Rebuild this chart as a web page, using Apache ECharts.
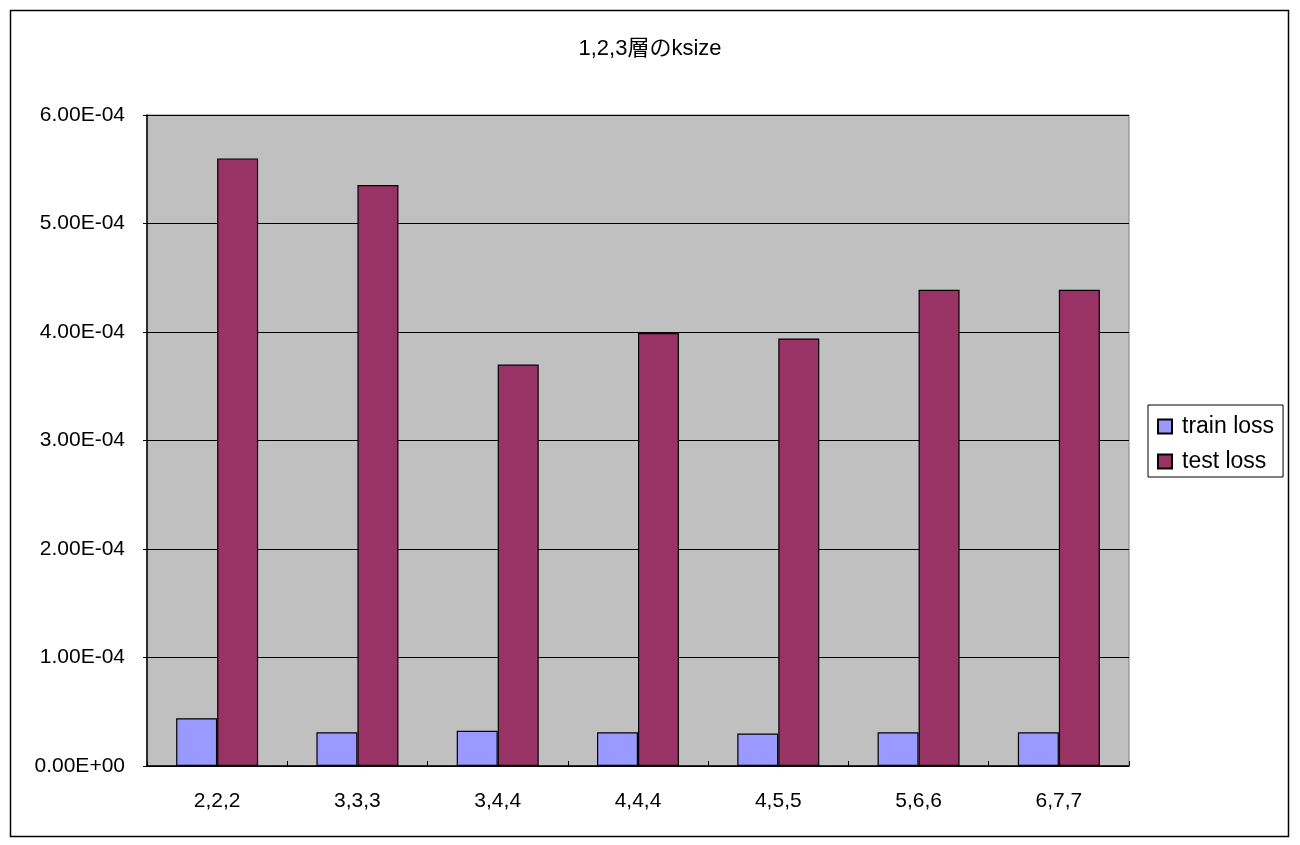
<!DOCTYPE html>
<html><head><meta charset="utf-8">
<script src="https://cdn.jsdelivr.net/npm/echarts@6/dist/echarts.min.js"></script>
<style>html,body{margin:0;padding:0;background:#fff}#c{width:1300px;height:845px}</style>
</head><body><div id="c"></div>
<script>
const title = '1,2,3層のksize';
const categories = ['2,2,2','3,3,3','3,4,4','4,4,4','4,5,5','5,6,6','6,7,7'];
const trainLoss = [0.44e-4, 0.31e-4, 0.325e-4, 0.31e-4, 0.30e-4, 0.31e-4, 0.31e-4];
const testLoss = [5.60e-4, 5.355e-4, 3.70e-4, 3.99e-4, 3.94e-4, 4.39e-4, 4.39e-4];
const seriesNames = ['train loss', 'test loss'];

const FONT = '"Liberation Sans", "Noto Sans CJK JP", sans-serif';
function fmt(v){
  if (Math.abs(v) < 1e-12) return '0.00E+00';
  let s = v.toExponential(2).toUpperCase();
  return s.replace(/E([+-])(\d)$/, 'E$10$2');
}
const chart = echarts.init(document.getElementById('c'));
chart.setOption({
  animation: false,
  backgroundColor: '#ffffff',
  title: { text: title, left: 'center', top: 33, textStyle: { fontFamily: FONT, fontSize: 22, fontWeight: 'normal', color: '#000' } },
  graphic: [{ type: 'rect', shape: { x: 10.5, y: 10.5, width: 1278, height: 826 }, style: { fill: 'none', stroke: '#000', lineWidth: 1.5 }, silent: true, z: -1 }],
  grid: { left: 147, right: 171, top: 115, bottom: 79, show: true, backgroundColor: '#c0c0c0', borderColor: '#808080', borderWidth: 1 },
  legend: {
    data: seriesNames, orient: 'vertical', left: 1148, top: 405,
    itemWidth: 14, itemHeight: 14, itemGap: 12, icon: 'rect',
    padding: [10, 9, 4, 9], borderColor: '#000', borderWidth: 1,
    textStyle: { fontFamily: FONT, fontSize: 23, color: '#000', lineHeight: 22, padding: [0, 0, 0, 5] }
  },
  xAxis: {
    type: 'category', data: categories,
    axisLine: { lineStyle: { color: '#000', width: 1.5 } },
    axisTick: { show: true, inside: true, length: 5, lineStyle: { color: '#000' } },
    axisLabel: { fontFamily: FONT, fontSize: 21, color: '#000', margin: 25 }
  },
  yAxis: {
    type: 'value', min: 0, max: 6e-4, interval: 1e-4,
    axisLine: { show: true, lineStyle: { color: '#000', width: 1.5 } },
    axisTick: { show: true, length: 4, lineStyle: { color: '#000' } },
    splitLine: { lineStyle: { color: '#000', width: 1 } },
    axisLabel: { fontFamily: FONT, fontSize: 21, color: '#000', margin: 22, padding: [8, 0, 0, 0], formatter: fmt }
  },
  series: [
    { name: seriesNames[0], type: 'bar', data: trainLoss, barWidth: 41, barGap: '0%',
      itemStyle: { color: '#9999ff', borderColor: '#000', borderWidth: 1.2 } },
    { name: seriesNames[1], type: 'bar', data: testLoss, barWidth: 41, barGap: '0%',
      itemStyle: { color: '#993366', borderColor: '#000', borderWidth: 1.2 } }
  ]
});
</script></body></html>
